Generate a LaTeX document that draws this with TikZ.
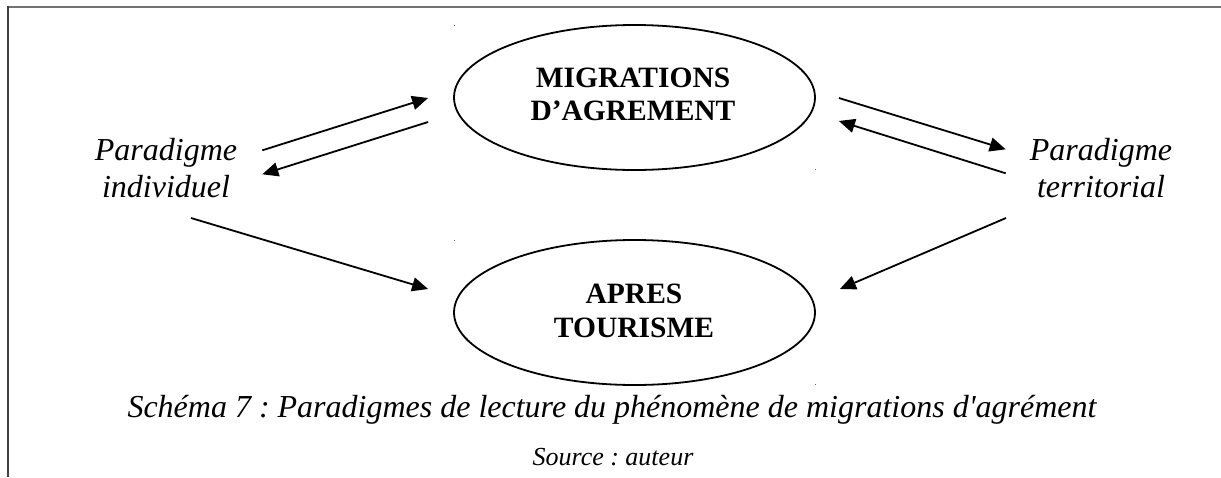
\documentclass[tikz,border=0pt]{standalone}
\usepackage{fontspec}
\setmainfont{Liberation Serif}
\newfontfamily\capfont{Liberation Serif}[Ligatures=ResetAll]
\usetikzlibrary{arrows.meta,shapes.geometric,calc}
\frenchspacing
\begin{document}
\begin{tikzpicture}[x=1pt,y=-1pt,
  oval/.style={ellipse,draw,line width=1.8pt,minimum width=361pt,minimum height=145pt,inner sep=0pt},
  boxtext/.style={font=\fontsize{29.5}{33}\selectfont\bfseries,anchor=base,inner sep=0pt},
  paratext/.style={font=\fontsize{32}{37}\selectfont\itshape,anchor=base,inner sep=0pt},
  captext/.style={font=\capfont\fontsize{32}{37}\selectfont\itshape,anchor=base,inner sep=0pt},
  srctext/.style={font=\fontsize{26}{30}\selectfont\itshape,anchor=base,inner sep=0pt},
  arr/.style={line width=1.8pt,-{Triangle[length=16pt,width=14pt]}},
  tick/.style={fill=black!60}
]
\useasboundingbox (0,0) rectangle (1221,477);
% frame
\draw[line width=2pt,black!55] (8,7) -- (1221,7);
\draw[line width=1.5pt,black!75] (8,6) -- (8,477);
% ellipses
\node[oval] (mig) at (634.5,97.5) {};
\node[oval] (apr) at (634.5,312.5) {};
\node[boxtext] (mig1) at (633,87) {MIGRATIONS};
\node[boxtext] (mig2) at (633,120) {D’AGREMENT};
\node[boxtext] (apr1) at (634,303) {APRES};
\node[boxtext] (apr2) at (634,337) {TOURISME};
% tick marks
\fill[tick] (454,25) rectangle +(1.2,1.2);
\fill[tick] (815,169) rectangle +(1.2,1.2);
\fill[tick] (454,240) rectangle +(1.2,1.2);
\fill[tick] (815,384) rectangle +(1.2,1.2);
% paradigms
\node[paratext] (ind1) at (166,160) {Paradigme};
\node[paratext] (ind2) at (166,197) {individuel};
\node[paratext] (ter1) at (1101,160) {Paradigme};
\node[paratext] (ter2) at (1101,197) {territorial};
% arrow ends
\coordinate (a1s) at ($(ind1.east)+(25,-2)$);
\coordinate (a1e) at ($(mig.west)+(-25,0.5)$);
\coordinate (a2s) at ($(mig.west)+(-25,24.5)$);
\coordinate (a2e) at ($(ind1.east)+(25,22)$);
\coordinate (a3s) at ($(mig.east)+(23,0.5)$);
\coordinate (a3e) at ($(ter1.west)+(-24,-3)$);
\coordinate (a4s) at ($(ter1.west)+(-24,21)$);
\coordinate (a4e) at ($(mig.east)+(23,23.5)$);
\coordinate (a5s) at (191,218);
\coordinate (a5e) at ($(apr.west)+(-25,-23.5)$);
\coordinate (a6s) at (1006,218);
\coordinate (a6e) at ($(apr.east)+(24,-23.5)$);
\draw[arr] (a1s) -- (a1e);
\draw[arr] (a2s) -- (a2e);
\draw[arr] (a3s) -- (a3e);
\draw[arr] (a4s) -- (a4e);
\draw[arr] (a5s) -- (a5e);
\draw[arr] (a6s) -- (a6e);
% caption
\node[captext] (cap) at (612,417) {Schéma 7 : Paradigmes de lecture du phénomène de migrations d'agrément};
\node[srctext] (src) at (613,465) {Source : auteur};
\end{tikzpicture}
\end{document}
